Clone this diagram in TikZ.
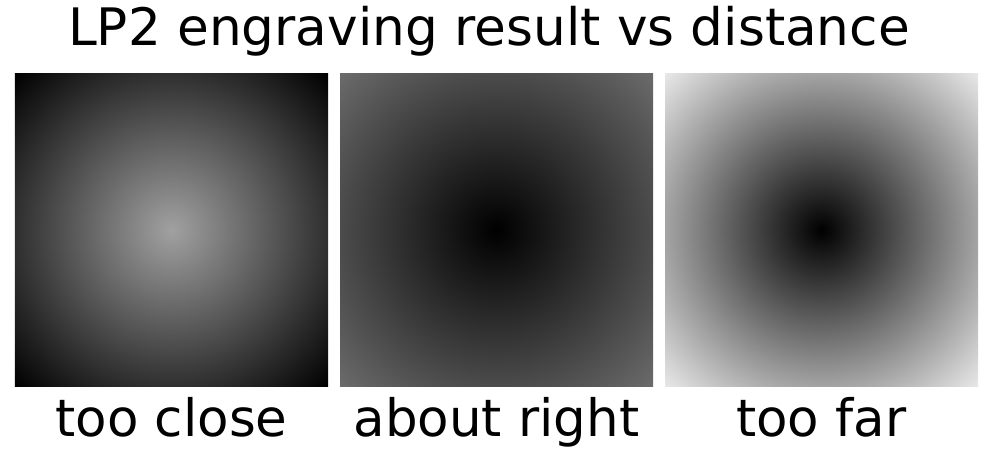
\documentclass[tikz,border=0pt]{standalone}
\usepackage{fontspec}
\setmainfont{DejaVu Sans}
\usepackage{xcolor}
\usepackage{tikz}
\usetikzlibrary{positioning,calc}
% half side of the square = 25bp, corner = 35.36bp
\pgfdeclareradialshading{shTooClose}{\pgfpoint{0bp}{0bp}}{color(0bp)=(black!37); color(35.36bp)=(black); color(50bp)=(black)}
\pgfdeclareradialshading{shAboutRight}{\pgfpoint{0bp}{0bp}}{color(0bp)=(black); color(35.36bp)=(black!58); color(50bp)=(black!58)}
\pgfdeclareradialshading{shTooFar}{\pgfpoint{0bp}{0bp}}{color(0bp)=(black); color(35.36bp)=(black!9); color(50bp)=(black!9)}
\tikzset{
  sample/.style={rectangle, inner sep=0pt, minimum size=6.26cm},
  caption/.style={anchor=base, font=\fontsize{29.3}{33}\selectfont},
  heading/.style={anchor=base, font=\fontsize{29.4}{33}\selectfont}
}
\begin{document}
\begin{tikzpicture}
\useasboundingbox (0,0) rectangle (19.88,-8.98);
\node[heading] (title) at (9.78,-0.92) {LP2 engraving result vs distance};
\node[sample, shading=shTooClose] (close) at (3.43,-4.6) {};
\node[sample, shading=shAboutRight] (right) at (9.93,-4.6) {};
\node[sample, shading=shTooFar] (far) at (16.43,-4.6) {};
\node[caption] (closelbl) at ($(close.south)+(0,-0.99)$) {too close};
\node[caption] (rightlbl) at ($(right.south)+(0,-0.99)$) {about right};
\node[caption] (farlbl) at ($(far.south)+(0,-0.99)$) {too far};
\end{tikzpicture}
\end{document}
